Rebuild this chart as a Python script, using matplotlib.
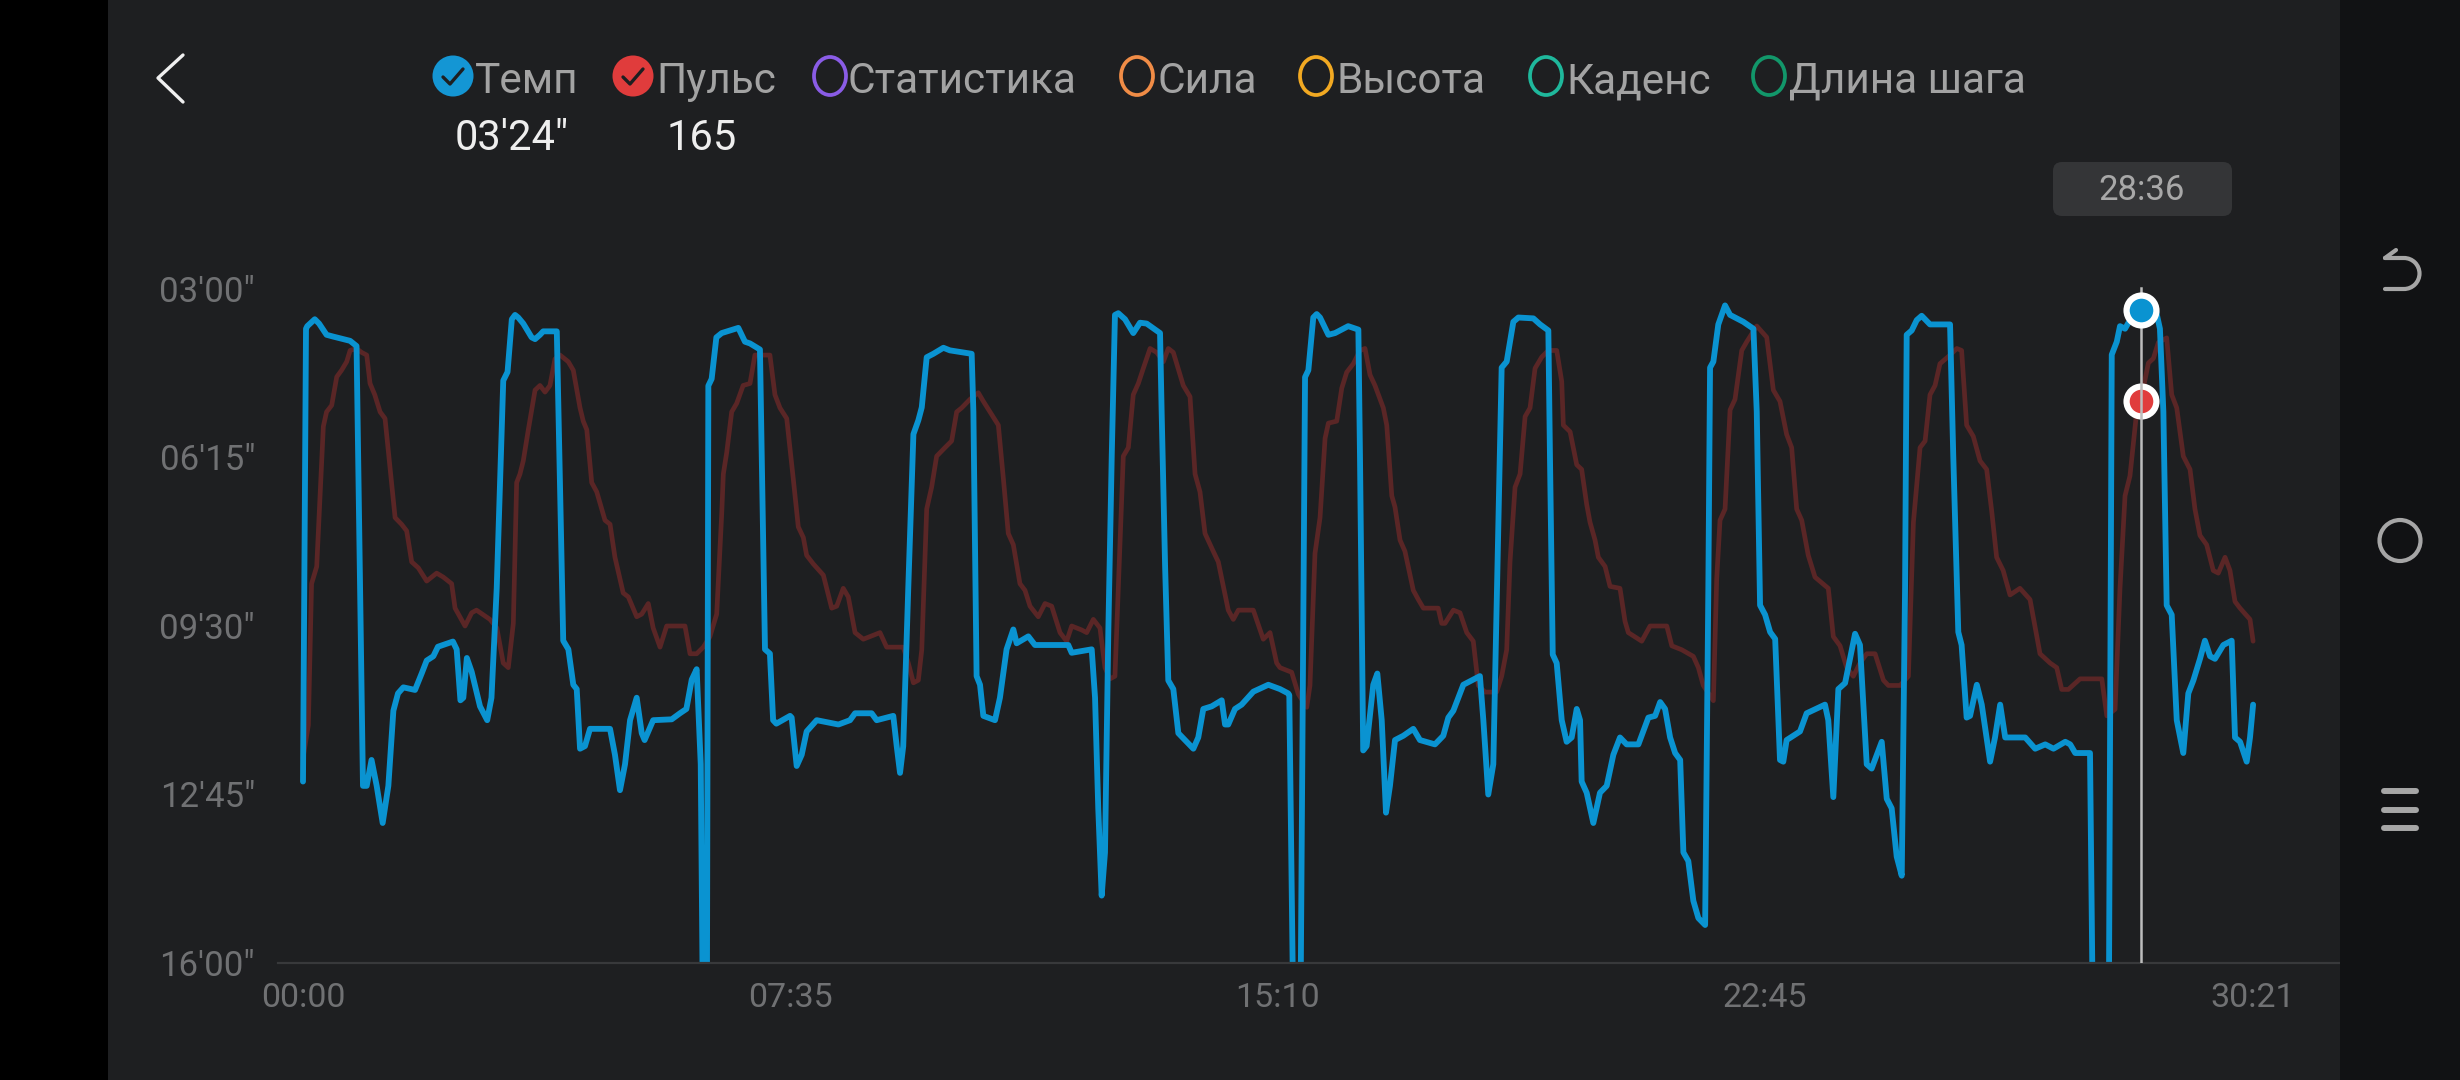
import matplotlib
matplotlib.use('Agg')
import matplotlib.pyplot as plt
from matplotlib.patches import Rectangle, Circle, Ellipse, FancyBboxPatch, Arc

plt.rcParams['font.family'] = ['Roboto', 'DejaVu Sans']

# ---------------- data ----------------
# pace (seconds per km) vs elapsed time (s)
pace_t = [0, 2.8, 4, 11, 15, 22, 28, 44, 50, 56, 59.5, 64, 68.8, 74.4, 79.7, 84.4, 88.7, 93.7, 104.6, 110.8,
          115.5, 121.7, 126, 140, 143.5, 147, 149.7, 153, 157.5, 165.3, 172, 176, 180.9, 187, 191, 195, 198, 201,
          205.7, 213.5, 216.7, 221.3, 224.3, 237, 243, 247.8, 252.4, 255.6, 258.7, 263.3, 268, 286.7, 291.3, 296,
          300.7, 305.4, 311.6, 316.3, 319, 327, 344.3, 352, 358, 363, 367.6, 371.4, 374, 377, 378.5, 381.6, 386,
          391, 406.5, 412.7, 417.4, 426.7, 431.4, 436, 439, 442, 454.8,
          456.3, 461, 465.7, 470.3, 479.7, 500, 510.8, 515.5, 531, 535.7, 551.2, 554.4, 557.5, 560.5, 565.2, 570,
          574.6, 577.8, 582.4, 588.6, 598, 604, 624.4, 626, 629, 632.2, 635.3, 646.2, 650.8, 657, 663.3, 666.4,
          677.3, 683.5, 714.6, 717.8, 736.5, 739.6, 742.6, 745.8, 748.9, 752, 755.2, 758.2, 761.3, 767.6, 775.3,
          781.6, 787.8, 800.3, 801.8, 805, 808, 812.7, 817.4, 825.2, 831.4, 836, 840.7, 848.5, 857.9, 861, 864,
          870.3, 876.5, 887.4, 901.4, 912.3,
          920, 921, 925.5, 931, 935.7, 938.8, 943.4, 946.6, 949.7, 957.5, 963.7, 976, 985.5, 987, 990, 993.2,
          999.4, 1003.2, 1007.3, 1011.3, 1015, 1019.7, 1027.5, 1036.8, 1043, 1057, 1064.8, 1069.5, 1074.2, 1083.5,
          1091.3, 1099, 1102.2, 1106.8, 1111.5, 1116.2, 1119.3, 1124, 1130.2, 1134.9, 1148.9, 1155.2, 1162.9,
          1164.4, 1167, 1170.7, 1175.4, 1180, 1184.7, 1189.4, 1192.5, 1194, 1198.7, 1204.9, 1211.1, 1217.4,
          1223.6, 1229.8, 1236, 1247, 1256.3, 1262.6, 1267.3, 1271.9, 1276.6, 1281.3, 1286, 1289, 1293.6, 1298.3,
          1303, 1309.3, 1312.3, 1313.9, 1317, 1321.6, 1327.9, 1332.6, 1345, 1354.4, 1357.5, 1360.6,
          1365.3, 1370, 1374.7, 1379.2, 1382.3, 1385.4, 1397.9, 1404.1, 1421.2, 1424.3, 1429, 1433.7, 1440,
          1449.3, 1453.9, 1460.2, 1464.8, 1474.2, 1478.9, 1483.5, 1488.2, 1492.9, 1496, 1497.5, 1502.2, 1506.9,
          1511.5, 1519.3, 1538, 1541, 1545.7, 1548.8, 1553.5, 1556.7, 1563, 1567.6, 1575.4, 1580, 1584.8, 1589.5,
          1608.2, 1617.5, 1626.9, 1634.6, 1645.6, 1650.2, 1654.9, 1668.7, 1672, 1686, 1689, 1693.7, 1696.7,
          1701.4, 1706, 1716, 1729.4, 1734, 1737.2, 1740.3, 1745, 1749.7, 1755.8, 1760.5, 1765.2, 1771.4, 1776,
          1780.8, 1785.4, 1793.2, 1801, 1804.1, 1808.8, 1815, 1818.1, 1821]
pace_v = [750, 226, 223, 215, 220, 233, 235, 240, 246, 755, 755, 725, 755, 798, 755, 668, 648, 641, 644, 625,
          610, 605, 594, 588, 597, 656, 653, 607, 623, 663, 679, 653, 526, 286, 276, 215, 210, 213,
          220, 236, 238, 233, 229, 229, 587, 597, 638, 643, 712, 709, 689, 689, 719, 760,
          730, 679, 653, 694, 702, 679, 678, 671, 666, 632, 620, 730, 1100, 1100, 292, 284, 236,
          231, 225, 241, 243, 250, 597, 602, 679, 683, 674,
          676, 732, 719, 692, 679, 684, 679, 671, 671, 679, 674, 709, 740, 709, 526, 348,
          332, 317, 259, 255, 248, 251, 255, 322, 628, 638, 674, 679, 653, 597, 574, 590,
          582, 592, 592, 601, 597, 653, 781, 882, 832, 577, 373, 210, 208, 215, 231,
          219, 220, 231, 322, 500, 633, 643, 694, 704, 712, 699, 666, 663, 656, 684, 684,
          666, 661, 646, 638, 643,
          648, 650, 1100, 1100, 282, 274, 213, 209, 213, 233, 231, 223, 227, 373, 714, 709,
          638, 625, 679, 786, 755, 702, 697, 689, 702, 707, 697, 676, 668, 638,
          633, 628, 679, 765, 730, 450, 271, 264, 218, 213, 214, 221, 228,
          373, 603, 613, 679, 704, 699, 666, 679, 750, 763, 798, 763, 755,
          719, 699, 707, 707, 676, 674, 658, 666, 699, 717, 725, 832, 842, 888,
          908, 916, 526, 271, 264, 221, 199, 210, 218, 226, 322, 546,
          557, 577, 585, 725, 727, 702, 692, 671, 661, 679, 768, 643, 636,
          579, 592, 730, 735, 704, 770, 781, 837, 859, 526, 233, 228, 216,
          211, 221, 221, 373, 577, 592, 676, 674, 638, 661, 727, 699, 661, 699,
          699, 712, 707, 712, 704, 707, 717, 717, 1100, 1100, 256, 241, 223,
          226, 216, 204, 200, 226, 322, 546, 557, 679, 717, 648, 633, 608, 587,
          605, 608, 592, 587, 699, 704, 727, 699, 661]

# heart rate (bpm) vs elapsed time (s)
hr_t = [0, 5, 8, 12.8, 19, 22, 26.8, 31.5, 36, 40.8, 44, 50, 54.8, 59.5, 62.6, 67, 72, 76.6, 81, 86, 92, 96.8,
        101.5, 107.7, 115.5, 124.8, 131, 138.8, 142, 151.3, 157.5, 162, 174.6, 181, 187, 191.7, 196.4, 199.5,
        202.6, 205.7, 210.4, 216.7, 221.3, 226, 230.6, 235.3, 240, 247.7, 252.4, 258.7, 261.7, 265, 269.6,
        274.3, 282, 286.7, 291.3, 299, 303.8, 311.6, 316.3, 322.4, 327, 333.4, 339.6, 356.7, 361.4, 367.6,
        373.8, 380, 386.3, 391, 392.5, 395.7, 400.3, 405, 411, 417.4, 422, 436, 440.7, 445.4, 451.7,
        457.8, 462.5, 467.2, 470.3, 476.5, 485.9, 493.7, 498.4, 504.5, 509.2, 515.5, 523.2, 538.8, 545, 560.5,
        565.2, 570, 574.6, 577.8, 582.4, 587, 591.7, 599.5, 605.7, 610.4, 615, 622.8, 630.6, 635.3, 641.5,
        649.3, 654, 658.6, 663.3, 669.5, 674.2, 678.9, 686.6, 692.9, 699.1, 706.9, 713.1, 717.8, 727.1, 731.8,
        738, 744.2, 748.9, 753.6, 758.2, 761.3, 766, 770.7, 775.3, 780, 784.7, 791, 797.2, 803.4, 808, 812.7,
        822, 828.3, 833, 837.6, 842.3, 850, 854.7, 864, 868.7, 873.4, 887.4, 896.7, 903, 909.2,
        912.3, 923.2, 929.4, 937.3, 940.3, 945, 949.7, 954.4, 957.5, 965.3, 970, 974.6, 980.8, 987, 991.7,
        996.4, 1001, 1008.8, 1012, 1016.7, 1019.7, 1024.4, 1029, 1036.8, 1041.5, 1046.2, 1060, 1063.3, 1066.4,
        1074.2, 1080.4, 1086.7, 1092.8, 1097.5, 1103.7, 1114.6, 1119.3, 1124, 1127.1, 1131.8, 1136.5, 1141.2,
        1145.8, 1150.5, 1156.7, 1162.9, 1170.7, 1175.4, 1176.9, 1183.2, 1189.4, 1194, 1198.7, 1201.8, 1206.5,
        1209.6, 1215.9, 1220.5, 1229.8, 1234.5, 1237.6, 1250.1, 1257.9, 1273.5, 1278.2, 1287.5, 1298.3, 1303,
        1307.6, 1317, 1320.1, 1323.2, 1327.9, 1332.6, 1337.2, 1343.5, 1348.1, 1357.5,
        1366.8, 1373, 1379.2, 1385.4, 1390.1, 1394.8, 1399.5, 1405.6, 1411.9, 1424.3, 1429, 1435.3, 1441.5,
        1447.7, 1453.9, 1460.2, 1468, 1475.8, 1480.4, 1491.4, 1499.1, 1503.8, 1510, 1514.7, 1519.3, 1524,
        1528.6, 1538, 1544.3, 1548.8, 1553.5, 1559.7, 1566, 1572.2, 1576.9, 1581.5, 1587.6, 1594, 1603.3,
        1612.7, 1622, 1631.4, 1637.6, 1642.3, 1648.5, 1659.4, 1679.7, 1684.4, 1692.1, 1696.7, 1701.4, 1706,
        1712, 1716, 1723.2, 1727.9, 1732.5, 1740.3, 1745, 1749.7, 1755.8, 1762.1, 1766.7, 1771.4, 1777.6,
        1783.8, 1788.5, 1794.8, 1799.4, 1804.1, 1808.8, 1818.1, 1821]
hr_v = [111, 116, 137.4, 140, 161.2, 163.4, 164.4, 168.7, 169.7, 171, 172.7, 173, 172.4, 172, 167.7, 166, 163.4,
        162.4, 155.4, 147.4, 146.4, 145.4, 140.7, 139.8, 137.8, 139, 138.4, 137.4, 133.7, 131, 133, 133.4, 132,
        130.7, 125.4, 124.7, 131.4, 152.7, 154, 156, 160.7, 166.7, 167.4, 166.4, 167.4, 171.4, 172, 171, 169.7,
        164, 162, 160.7, 152.7, 151.3, 147, 146.4, 141.4, 136, 135.4, 132.4, 132.8, 134.4, 130.7, 127.8, 131,
        131, 126.8, 126.8, 127.8, 129.4, 132.8, 148, 154, 157.3, 163.4, 164.7, 167.4, 167.7, 172, 172, 166, 164,
        162.4,
        153.3, 146, 144.4, 141.7, 140.4, 138.7, 133.7, 134, 136.7, 135.4, 130, 129, 130, 127.8, 127.8, 125.4,
        122.4, 122.8, 127.4, 148.7, 152, 156.7, 158, 159, 163.4, 164, 165.3, 166.3, 165, 163.4, 161.4, 153.3,
        145, 143.3, 137.4, 136.4, 134, 132.4, 134.4, 134, 130, 128.7, 131, 130.4, 130, 132, 130.7, 124.7, 123,
        123.4, 136.7, 156.7, 158, 166, 167.7, 170, 173, 172.4, 171, 173, 172.4, 167.4, 165.7, 154, 151.3, 145,
        142.3, 140.7, 133.4, 132, 133.4, 133.4, 129, 130, 125.4,
        124.7, 124, 120.7, 118.7, 122, 142, 147.4, 159.4, 161.7, 162, 167, 169.4, 170.7, 172.7, 173, 169,
        167.4, 164, 161.4, 150.7, 149, 144, 142.3, 136.4, 135, 133.7, 133.7, 131.4, 131.4, 133.4, 133, 130,
        128.7, 122, 121, 121, 123.4, 127.4, 140.7, 152, 154, 162.7, 164, 170, 171.7, 172.7, 172.7, 168, 161.4,
        160.4, 155.4, 154.7, 149.4, 146.7, 144, 141.4, 140, 137, 136.7, 131.7, 130, 128.7, 131, 131, 128,
        127.4, 126.4, 124.7, 122, 119.7, 138.1, 147, 148.7, 163.7, 165.3, 172.7, 174, 176.4,
        174.7, 166.7, 165, 160, 158, 148.7, 147, 141.7, 138.4, 136.7, 129.4, 128, 124.7, 123.4, 125.4, 126.8,
        126.8, 122.8, 122, 122, 123.4, 146.7, 158, 159, 166, 167.4, 170.7, 172, 173, 172.7, 161.4, 159.7, 156,
        154.7, 148.4, 141.4, 139.4, 135.7, 136.7, 135, 126.8, 125.4, 124.7, 121.4, 121.4, 123, 123, 117.4,
        118.4, 136.7, 150.7, 153.7, 163, 165, 170.8, 171.5, 173.9, 174.6, 166, 164, 156.7, 154.7, 148.7,
        144.7, 143.3, 139.4, 139, 141.4, 139.4, 134.7, 133.7, 132, 128.7]

x_ticks = [0, 455, 910, 1365, 1821]
x_labels = ['00:00', '07:35', '15:10', '22:45', '30:21']
y_ticks = [180, 375, 570, 765, 960]
y_labels = ['03\'00"', '06\'15"', '09\'30"', '12\'45"', '16\'00"']

cursor_t = 1716
cursor_label = '28:36'
cursor_pace = 204
cursor_pace_label = '03\'24"'
cursor_hr = 165

legend_labels = ['Темп', 'Пульс', 'Статистика', 'Сила', 'Высота', 'Каденс', 'Длина шага']
legend_colors = ['#1496d4', '#e03c3c', '#8a5ce6', '#f08c46', '#f2a922', '#1fb89c', '#12976a']
legend_active = [True, True, False, False, False, False, False]

# ---------------- styling ----------------
BG = '#1e1f21'
BLUE = '#0a93d1'
HR_COL = '#5a2626'
TICK_COL = '#707173'
LEG_TXT = '#a3a3a3'

W, H = 2460, 1080
fig = plt.figure(figsize=(W / 100, H / 100), dpi=100, facecolor=BG)

AX_L, AX_R, AX_T, AX_B = 278, 2340, 240, 963
T0_PX, PX_PER_S = 303, 1.0709
PACE0_PX, PX_PER_PACE = 289, (963 - 289) / 780.0
HR_LO, HR_HI = 80, 182
PX_PER_BPM = (963 - 289) / (HR_HI - HR_LO)

ax = fig.add_axes([AX_L / W, 1 - AX_B / H, (AX_R - AX_L) / W, (AX_B - AX_T) / H])
ax2 = ax.twinx()
ax.set_zorder(2)
ax2.set_zorder(1)
ax.patch.set_visible(False)
ax2.patch.set_visible(False)

ax.set_xlim((AX_L - T0_PX) / PX_PER_S, (AX_R - T0_PX) / PX_PER_S)
ax.set_ylim(y_ticks[-1], y_ticks[0] - (PACE0_PX - AX_T) / PX_PER_PACE)
ax2.set_ylim(HR_LO, HR_HI + (PACE0_PX - AX_T) / PX_PER_BPM)

ax2.plot(hr_t, hr_v, color=HR_COL, lw=3.4, solid_joinstyle='round', solid_capstyle='round')
ax.plot(pace_t, pace_v, color=BLUE, lw=4.2, solid_joinstyle='round', solid_capstyle='round')

for s in ax.spines.values():
    s.set_visible(False)
for s in ax2.spines.values():
    s.set_visible(False)
ax.spines['bottom'].set_visible(True)
ax.spines['bottom'].set_color('#38393b')
ax.spines['bottom'].set_linewidth(1.6)

ax.set_xticks(x_ticks)
ax.set_xticklabels(x_labels)
ax.set_yticks(y_ticks)
ax.set_yticklabels(y_labels)
ax.tick_params(axis='x', length=0, pad=14, labelsize=24.5, labelcolor=TICK_COL)
ax.tick_params(axis='y', length=0, pad=16.5, labelsize=25, labelcolor=TICK_COL)
ax2.set_yticks([])

# cursor
top_frac = (ax.get_ylim()[0] - (y_ticks[0] - 1)) / (ax.get_ylim()[0] - ax.get_ylim()[1])
ax.axvline(cursor_t, ymin=0, ymax=top_frac, color='#bdbdbd', lw=1.8, zorder=4)
ax.plot([cursor_t], [cursor_pace], 'o', ms=21.5, mfc=BLUE, mec='white', mew=4.5, zorder=6, clip_on=False)
ax2.plot([cursor_t], [cursor_hr], 'o', ms=21.5, mfc='#e03c3c', mec='white', mew=4.5, zorder=6, clip_on=False)

# ---------------- decoration overlay (pixel coords) ----------------
deco = fig.add_axes([0, 0, 1, 1])
deco.set_xlim(0, W)
deco.set_ylim(H, 0)
deco.axis('off')
deco.patch.set_visible(False)
deco.set_zorder(5)

deco.add_patch(Rectangle((0, 0), 108, H, color='#000000', lw=0))
deco.add_patch(Rectangle((2340, 0), 120, H, color='#111214', lw=0))

# back chevron
deco.plot([183, 158, 183], [55, 78, 102], color='#f0f0f0', lw=2.4, solid_capstyle='round')

# legend
ring_cx = [453, 633, 830, 1137, 1316, 1546, 1769]
text_x = [475, 656, 847, 1157, 1336, 1566, 1789]
for cx, tx, lab, col, act in zip(ring_cx, text_x, legend_labels, legend_colors, legend_active):
    if act:
        deco.add_patch(Circle((cx, 76), 20.5, color=col, lw=0))
        deco.plot([cx - 10, cx - 3, cx + 10], [77, 84, 69], color='#1e1f21', lw=2.4,
                  solid_capstyle='round', solid_joinstyle='round')
    else:
        deco.add_patch(Ellipse((cx, 76), 32, 38, fill=False, ec=col, lw=2.7))
    deco.text(tx, 93, lab, color=LEG_TXT, fontsize=30.5, ha='left', va='baseline')

deco.text(512, 150, cursor_pace_label, color='#eeeeee', fontsize=30, ha='center', va='baseline')
deco.text(702, 150, str(cursor_hr), color='#eeeeee', fontsize=30, ha='center', va='baseline')

# tooltip
r = 9
deco.add_patch(FancyBboxPatch((2053 + r, 162 + r), 179 - 2 * r, 54 - 2 * r,
                              boxstyle='round,pad=%d' % r, fc='#343537', ec='none'))
deco.text(2142, 190, cursor_label, color='#a8a8a8', fontsize=25, ha='center', va='center')

# right-side navigation icons
ICON = '#a6a6a6'
deco.add_patch(Ellipse((2400, 540.5), 41, 41, fill=False, ec=ICON, lw=3.0))
for yy in [791, 810, 828]:
    deco.plot([2384, 2416], [yy, yy], color=ICON, lw=4.3, solid_capstyle='round')
deco.add_patch(Arc((2404, 273.5), 31, 31, theta1=-90, theta2=90, ec=ICON, lw=3.0))
deco.plot([2385, 2404], [258, 258], color=ICON, lw=3.0, solid_capstyle='round')
deco.plot([2385, 2404], [289, 289], color=ICON, lw=3.0, solid_capstyle='round')
deco.plot([2385, 2396], [258, 250], color=ICON, lw=3.0, solid_capstyle='round')

fig.savefig('out.png', dpi=100, facecolor=BG)
